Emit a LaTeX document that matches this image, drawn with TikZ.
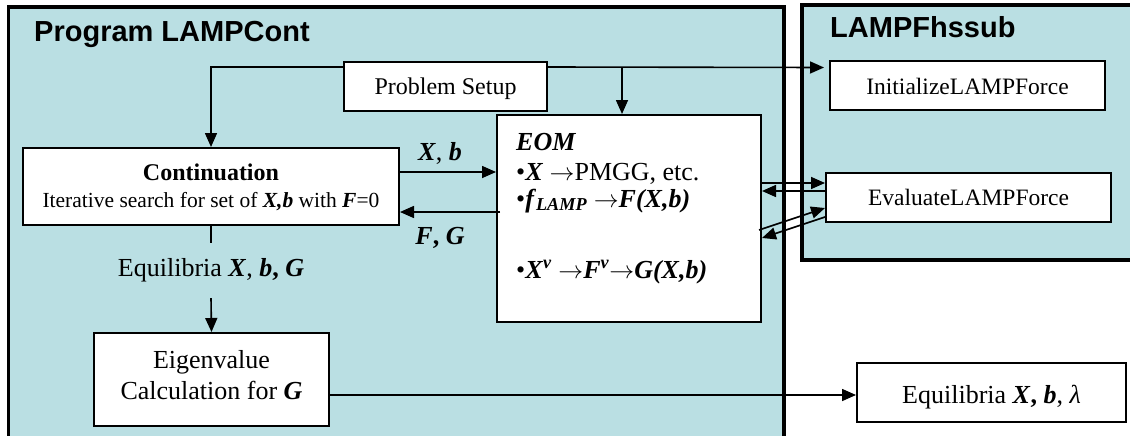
\documentclass[tikz,border=0pt]{standalone}
\usepackage{fontspec}
\setmainfont{Liberation Serif}
\newfontfamily\arialf{Liberation Sans}
\usetikzlibrary{arrows.meta}
\definecolor{panel}{RGB}{186,223,227}
\newcommand{\bi}[1]{\textbf{\textit{#1}}}
\newcommand{\fs}[1]{\fontsize{#1}{#1}\selectfont}
\newcommand{\rarr}{$\rightarrow$}
\begin{document}
\begin{tikzpicture}[x=1pt,y=-1pt,
  conn/.style={line width=1.6pt,-{Triangle[length=14pt,width=12pt]}},
  plainline/.style={line width=1.6pt},
  box/.style={draw=black,fill=white,line width=2pt,inner sep=0pt},
  panelbox/.style={draw=black,fill=panel,line width=3.5pt},
  txt/.style={inner sep=0pt,anchor=base},
  txtw/.style={inner sep=0pt,anchor=base west},
  title/.style={inner sep=0pt,anchor=base west,font=\arialf\bfseries\fs{29}}]
\useasboundingbox (0,0) rectangle (1130,436);
\begin{scope}
  \clip (0,0) rectangle (1130,436);
  \draw[panelbox] (8.5,7) rectangle (784,470);
  \draw[panelbox] (802,5) rectangle (1170,260);
\end{scope}
\node[title] (t1) at (34,42) {Program LAMPCont};
\node[title] (t2) at (830,38) {LAMPFhssub};

% boxes
\node[box,minimum width=203pt,minimum height=49pt] (ps) at (445.5,86.5) {};
\node[txt,font=\fs{24}] (pst) at (445.5,94) {Problem Setup};
\node[box,minimum width=376pt,minimum height=77pt] (cont) at (211,186.5) {};
\node[txt,font=\fs{24}\bfseries] (ct1) at (211,180) {Continuation};
\node[txt,font=\fs{21.5}] (ct2) at (211,207) {Iterative search for set of \bi{X,b} with \bi{F}=0};
\node[box,minimum width=264pt,minimum height=207pt] (eom) at (629,218.5) {};
\node[txtw,font=\fs{26}] (e1) at (516,150) {\bi{EOM}};
\node[txtw,font=\fs{26}] (e2) at (516,180) {•\bi{X} \rarr PMGG, etc.};
\node[txtw,font=\fs{26}] (e3) at (516,207) {•\bi{f}\textsubscript{\bi{LAMP}} \rarr\bi{F(X,b)}};
\node[txtw,font=\fs{26}] (e4) at (516,278) {•\bi{X}\textsuperscript{\bi{v}} \rarr\bi{F}\textsuperscript{\bi{v}}\rarr\bi{G(X,b)}};
\node[box,minimum width=235pt,minimum height=93pt] (eig) at (211.5,379.5) {};
\node[txt,font=\fs{26}] (g1) at (211.5,368) {Eigenvalue};
\node[txt,font=\fs{26}] (g2) at (211.5,399) {Calculation for \bi{G}};
\node[box,minimum width=275pt,minimum height=49pt] (init) at (967.5,85.5) {};
\node[txt,font=\fs{23.5}] (it) at (967.5,94) {InitializeLAMPForce};
\node[box,minimum width=285pt,minimum height=49pt] (eval) at (968.5,197.5) {};
\node[txt,font=\fs{23.5}] (et) at (968.5,205) {EvaluateLAMPForce};
\node[box,minimum width=269pt,minimum height=59pt] (fin) at (991.5,392.5) {};
\node[txt,font=\fs{26}] (ft) at (991.5,403) {Equilibria \bi{X}\textbf{,} \bi{b}, \textit{λ}};

% equilibria label between continuation and eigenvalue
\node[inner sep=0pt,minimum height=55pt,font=\fs{26}] (eql) at (211,270.5) {Equilibria \bi{X}, \bi{b}\textbf{, }\bi{G}};

% labels on arrows
\node[txt,font=\fs{26}] (lxb) at (440,160) {\bi{X}, \bi{b}};
\node[txt,font=\fs{26}] (lfg) at (440,244) {\bi{F}\textbf{,} \bi{G}};

% connectors
\draw[conn] ([yshift=-6pt]ps.north west) -| (cont.north);
\draw[conn] ([yshift=-6pt]ps.north east) -- ([yshift=-7.5pt,xshift=-5pt]init.north west);
\coordinate (jn) at (622,68);
\draw[conn] (jn) -- (jn |- eom.north);
\coordinate (xb) at (399,172);
\draw[conn] (xb) -- (xb -| eom.west);
\coordinate (fg) at (500,212);
\draw[conn] (fg) -- (fg -| cont.east);
\draw[plainline] (cont.south) -- (eql.north);
\draw[conn] (eql.south) -- (eig.north);
\coordinate (ef) at (329,395);
\draw[conn] (ef) -- (ef -| fin.west);
\draw[conn] ([yshift=35.5pt]eom.east) -- ([yshift=14.5pt]eval.west);
\draw[conn] ([yshift=6.5pt]eval.west) -- ([yshift=27.5pt]eom.east);
\draw[conn] ([xshift=-3pt,yshift=-11.5pt]eom.east) -- ([yshift=-10.5pt]eval.west);
\draw[conn] ([yshift=-19.5pt]eval.west) -- ([yshift=-19.5pt]eom.east);
\end{tikzpicture}
\end{document}
